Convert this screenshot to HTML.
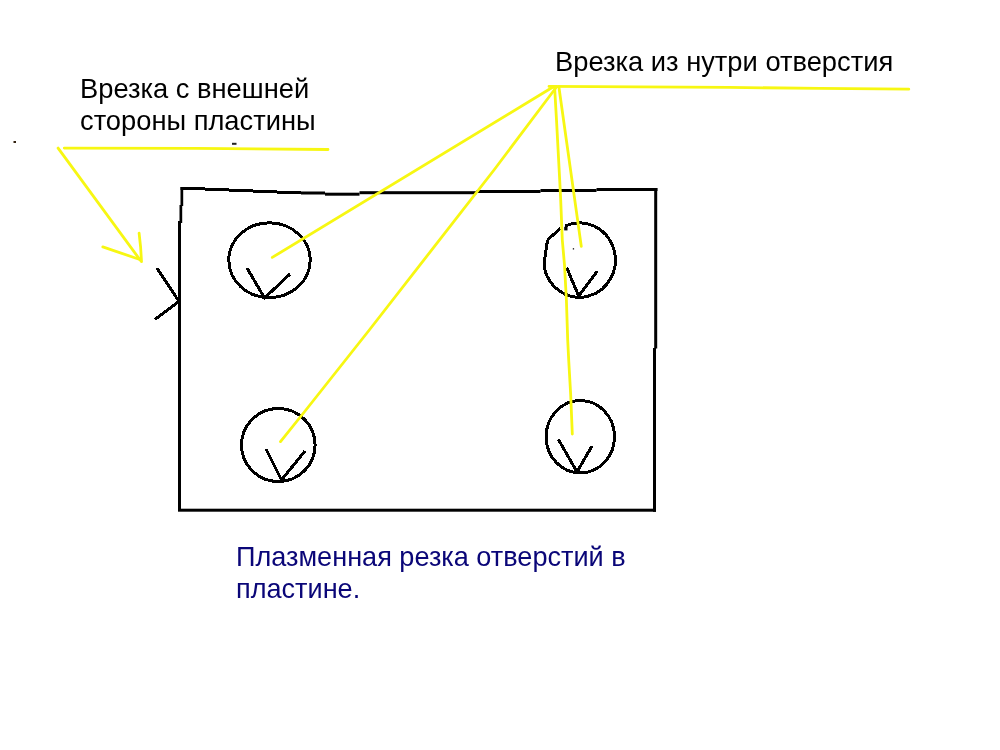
<!DOCTYPE html>
<html><head><meta charset="utf-8">
<style>
html,body{margin:0;padding:0;background:#fff;width:1000px;height:750px;overflow:hidden;}
.t{position:absolute;font-family:"Liberation Sans",sans-serif;font-size:27.3px;line-height:32px;color:#000;white-space:nowrap;will-change:transform;}
svg{position:absolute;left:0;top:0;}
</style></head><body>
<svg width="1000" height="750" viewBox="0 0 1000 750">
<g fill="#000" stroke="none">
<!-- rectangle top edge (stepped) -->
<rect x="180.5" y="187" width="24.5" height="3"/>
<rect x="205" y="188" width="24" height="3"/>
<rect x="229" y="189" width="24" height="3"/>
<rect x="253" y="190" width="24" height="3"/>
<rect x="277" y="191" width="24" height="3"/>
<rect x="301" y="191.5" width="24" height="3"/>
<rect x="325" y="192.7" width="34.5" height="3"/>
<rect x="359.5" y="191.2" width="117" height="3"/>
<rect x="476.5" y="190" width="64" height="3"/>
<rect x="540.5" y="189" width="56" height="3"/>
<rect x="596.5" y="188" width="61" height="3"/>
<!-- right edge -->
<rect x="654.2" y="188" width="3" height="160.5"/>
<rect x="653" y="348" width="3" height="163.8"/>
<!-- bottom edge -->
<rect x="178" y="508.7" width="78" height="3"/>
<rect x="256" y="508.7" width="400" height="3"/>
<!-- left edge -->
<rect x="180.5" y="187" width="2.7" height="19"/>
<rect x="179.5" y="205" width="2.7" height="18"/>
<rect x="178" y="221" width="3" height="290"/>
</g>
<g fill="none" stroke="#000" stroke-width="3" stroke-linecap="butt" stroke-linejoin="miter" shape-rendering="crispEdges">
<!-- circles -->
<ellipse cx="269.5" cy="260.2" rx="40.7" ry="37.4"/>
<path d="M544.2,267 A35.9,37.2 0 1 0 565,226 M560.5,228.5 L548.7,238.7 L547.3,241.5 L544.5,260 L544.2,268"/>
<ellipse cx="278.3" cy="445" rx="36.8" ry="36.5"/>
<ellipse cx="580.3" cy="436.7" rx="34.2" ry="36.2"/>
<!-- V marks -->
<polyline points="247,268 264.5,298 290,274"/>
<polyline points="566.7,267.7 578.7,296 597.3,271.3"/>
<polyline points="266,449 281.5,480 305,451"/>
<polyline points="558.5,439.5 577,472 592,446"/>
<!-- bracket -->
<polyline points="157,268 179,301.5 155,319.5"/>
</g>
<rect x="564.2" y="226.8" width="3.3" height="3.6" fill="#000"/>
<g fill="none" stroke="#f7f712" stroke-width="2.8" stroke-linecap="round">
<polyline points="64.3,148.1 196,148.3 328,149.5"/>
<line x1="58.1" y1="148.1" x2="140.5" y2="260.5"/>
<line x1="102.8" y1="246.9" x2="140.6" y2="259.8"/>
<polyline points="139.1,233.1 140.6,247 141.5,261.6"/>
<polyline points="549,86.4 729,87.4 820,88.4 908.8,89.2"/>
<line x1="553" y1="87" x2="272.3" y2="257.4"/>
<polyline points="556.5,87 494,170 369.3,330 305.9,410 280.5,441.6"/>
<polyline points="554.6,87 556.5,120 558.1,150 559.7,180 560.7,200 562.3,240 564.5,265 566.4,300 567.7,340 568.7,360 570.7,395 572.3,434"/>
<line x1="558.9" y1="87" x2="581.3" y2="246.4"/>
</g>
<rect x="232" y="142.8" width="4.5" height="2" fill="#222"/>
<rect x="572.8" y="248.2" width="1.3" height="1.3" fill="#111"/>
<rect x="13.5" y="141" width="2.5" height="2" fill="#321"/>
</svg>
<div class="t" style="left:80px;top:73.2px">Врезка с внешней<br>стороны пластины</div>
<div class="t" style="left:555px;top:46.1px">Врезка из нутри отверстия</div>
<div class="t" style="left:235.5px;top:540.5px;color:#0a0678;font-size:27.1px">Плазменная резка отверстий в<br>пластине.</div>
</body></html>
